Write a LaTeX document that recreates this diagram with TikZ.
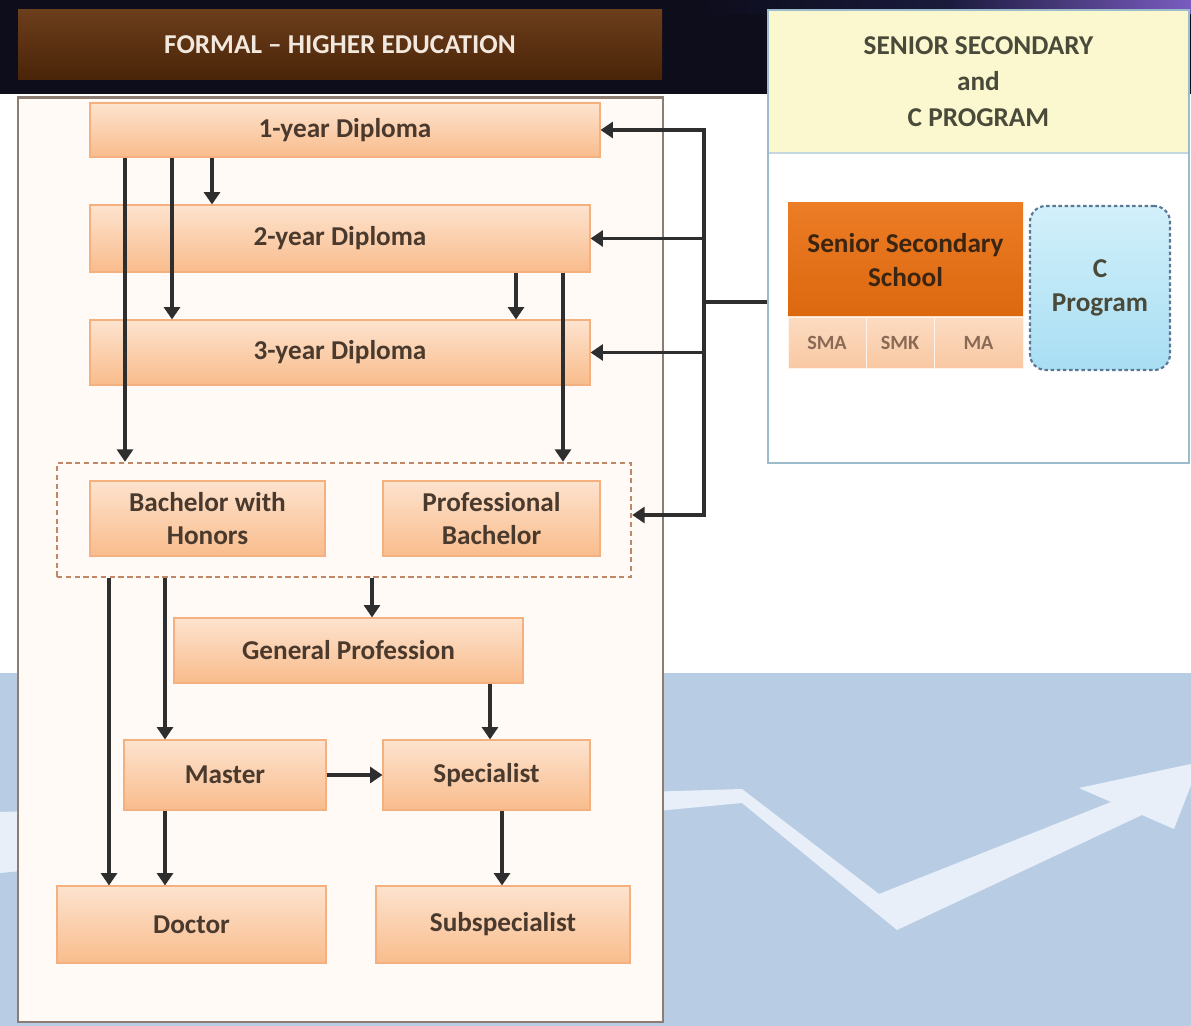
\documentclass[tikz,border=0pt]{standalone}
\usepackage{fontspec}
\setmainfont{Carlito}
\usetikzlibrary{arrows.meta,calc}
\definecolor{boxtop}{HTML}{FDE3CE}
\definecolor{boxbot}{HTML}{F9BC8C}
\definecolor{boxedge}{HTML}{F4B07E}
\definecolor{boxtxt}{HTML}{4A3A2E}
\definecolor{arrc}{HTML}{2E2E2E}
\definecolor{panelfill}{HTML}{FFFAF6}
\definecolor{panelline}{HTML}{8C7C72}
\definecolor{navy}{HTML}{0D0D1C}
\definecolor{navytwo}{HTML}{1A1A3C}
\definecolor{violet}{HTML}{7A5CC0}
\definecolor{bgblue}{HTML}{B8CDE4}
\definecolor{bandw}{HTML}{E8EFF8}
\definecolor{titletop}{HTML}{6B3E1C}
\definecolor{titlebot}{HTML}{4A2408}
\definecolor{titletxt}{HTML}{F2E8DE}
\definecolor{rpline}{HTML}{9CBCCC}
\definecolor{rphead}{HTML}{FBF8D0}
\definecolor{rptxt}{HTML}{4A4A3A}
\definecolor{sstop}{HTML}{EC7C26}
\definecolor{ssbot}{HTML}{DC680E}
\definecolor{sstxt}{HTML}{3A2412}
\definecolor{striptop}{HTML}{FCDCC2}
\definecolor{stripbot}{HTML}{F9C8A2}
\definecolor{striptxt}{HTML}{8A6A55}
\definecolor{ctop}{HTML}{D2F0FA}
\definecolor{cbot}{HTML}{A8DEF3}
\definecolor{cline}{HTML}{5A7896}
\definecolor{grpline}{HTML}{BE8866}
\newcommand\mkbox[7]{\node[#7,minimum width={(#4-#2)*0.02cm},minimum height={(#5-#3)*0.02cm}] (#1) at ({(#2+#4)/2},{(#3+#5)/2}) {#6};}
\begin{document}
\begin{tikzpicture}[x=0.02cm,y=-0.02cm,
  lab/.style={font=\bfseries\fontsize{15.5}{19}\selectfont, align=center, inner sep=0pt},
  box/.style={lab, draw=boxedge, line width=0.6pt, top color=boxtop, bottom color=boxbot, text=boxtxt},
  arr/.style={draw=arrc, line width=2.1pt, -{Triangle[length=7pt,width=9pt]}},
  ln/.style={draw=arrc, line width=2.1pt}]
\useasboundingbox (0,0) rectangle (1191,1026);
% background
\begin{scope}
\clip (0,0) rectangle (1191,1026);
\fill[white] (0,0) rectangle (1191,1026);
\fill[navy] (0,0) rectangle (1191,94);
\shade[left color=navy, right color=violet, middle color=navytwo] (700,0) rectangle (1191,14);
\fill[bgblue] (0,673) rectangle (1191,1026);
\fill[bandw] (0,812) -- (742,789) -- (879,894) -- (1111,802) -- (1079,788) -- (1200,762)
  -- (1174,829) -- (1142,815) -- (897,930) -- (742,803) -- (0,873) -- cycle;
\end{scope}
% title bar
\mkbox{title}{18}{10}{662}{80}{FORMAL -- HIGHER EDUCATION}{lab, top color=titletop, bottom color=titlebot, text=titletxt}
% main panel
\mkbox{main}{18}{98}{663}{1022}{}{draw=panelline, line width=1.7pt, fill=panelfill}
% group
\mkbox{grp}{57}{463}{631}{577}{}{draw=grpline, line width=1.4pt, dash pattern=on 3pt off 2pt}
% boxes
\mkbox{d1}{90}{103}{600}{157}{1-year Diploma}{box}
\mkbox{d2}{90}{205}{590}{272}{2-year Diploma}{box}
\mkbox{d3}{90}{320}{590}{385}{3-year Diploma}{box}
\mkbox{bh}{90}{481}{325}{556}{Bachelor with\\Honors}{box}
\mkbox{pb}{383}{481}{600}{556}{Professional\\Bachelor}{box}
\mkbox{gp}{174}{618}{523}{683}{General Profession}{box}
\mkbox{ma}{124}{740}{326}{810}{Master}{box}
\mkbox{sp}{383}{740}{590}{810}{Specialist}{box}
\mkbox{dr}{57}{886}{326}{963}{Doctor}{box}
\mkbox{ss}{376}{886}{630}{963}{Subspecialist}{box}
% right panel
\mkbox{rp}{768}{10}{1189}{463}{}{draw=rpline, line width=1.6pt, fill=white}
\mkbox{rph}{769}{11}{1188}{153}{SENIOR SECONDARY\\[1.5pt]and\\[1.5pt]C PROGRAM}{lab, fill=rphead, text=rptxt}
\draw[rpline!60, line width=1pt] (rph.south west) -- (rph.south east);
\mkbox{sss}{788}{203}{1023}{317}{Senior Secondary\\School}{lab, top color=sstop, bottom color=ssbot, text=sstxt}
\mkbox{sma}{788}{317}{866}{368}{SMA}{lab, font=\bfseries\fontsize{11.5}{13}\selectfont, top color=striptop, bottom color=stripbot, text=striptxt, draw=white!80!stripbot}
\mkbox{smk}{866}{317}{934}{368}{SMK}{lab, font=\bfseries\fontsize{11.5}{13}\selectfont, top color=striptop, bottom color=stripbot, text=striptxt, draw=white!80!stripbot}
\mkbox{mad}{934}{317}{1023}{368}{MA}{lab, font=\bfseries\fontsize{11.5}{13}\selectfont, top color=striptop, bottom color=stripbot, text=striptxt, draw=white!80!stripbot}
\mkbox{cp}{1030}{206}{1170}{370}{C\\Program}{lab, rounded corners=9pt, top color=ctop, bottom color=cbot, text=rptxt, draw=cline, line width=1.2pt, dash pattern=on 2pt off 1.5pt}
% connectors inside main panel
\draw[arr] (212,0 |- d1.south) -- (212,0 |- d2.north);
\draw[arr] (172,0 |- d1.south) -- (172,0 |- d3.north);
\draw[arr] (125,0 |- d1.south) -- (125,0 |- grp.north);
\draw[arr] (516,0 |- d2.south) -- (516,0 |- d3.north);
\draw[arr] (563,0 |- d2.south) -- (563,0 |- grp.north);
\draw[arr] (372,0 |- grp.south) -- (372,0 |- gp.north);
\draw[arr] (165,0 |- grp.south) -- (165,0 |- ma.north);
\draw[arr] (109,0 |- grp.south) -- (109,0 |- dr.north);
\draw[arr] (490,0 |- gp.south) -- (490,0 |- sp.north);
\draw[arr] (ma.east) -- (sp.west);
\draw[arr] (165,0 |- ma.south) -- (165,0 |- dr.north);
\draw[arr] (502,0 |- sp.south) -- (502,0 |- ss.north);
% bus from right panel
\coordinate (bT) at (704,130);
\coordinate (bB) at (704,515);
\coordinate (bM) at (704,302);
\draw[ln] (rp.west |- bM) -- (bM);
\draw[arr] (bB) -- (bT) -- (d1.east);
\draw[arr] (bT) -- (bB) -- (grp.east |- bB);
\draw[arr] (d2.east -| bT) -- (d2.east);
\draw[arr] (d3.east -| bT) -- (d3.east);
\end{tikzpicture}
\end{document}
